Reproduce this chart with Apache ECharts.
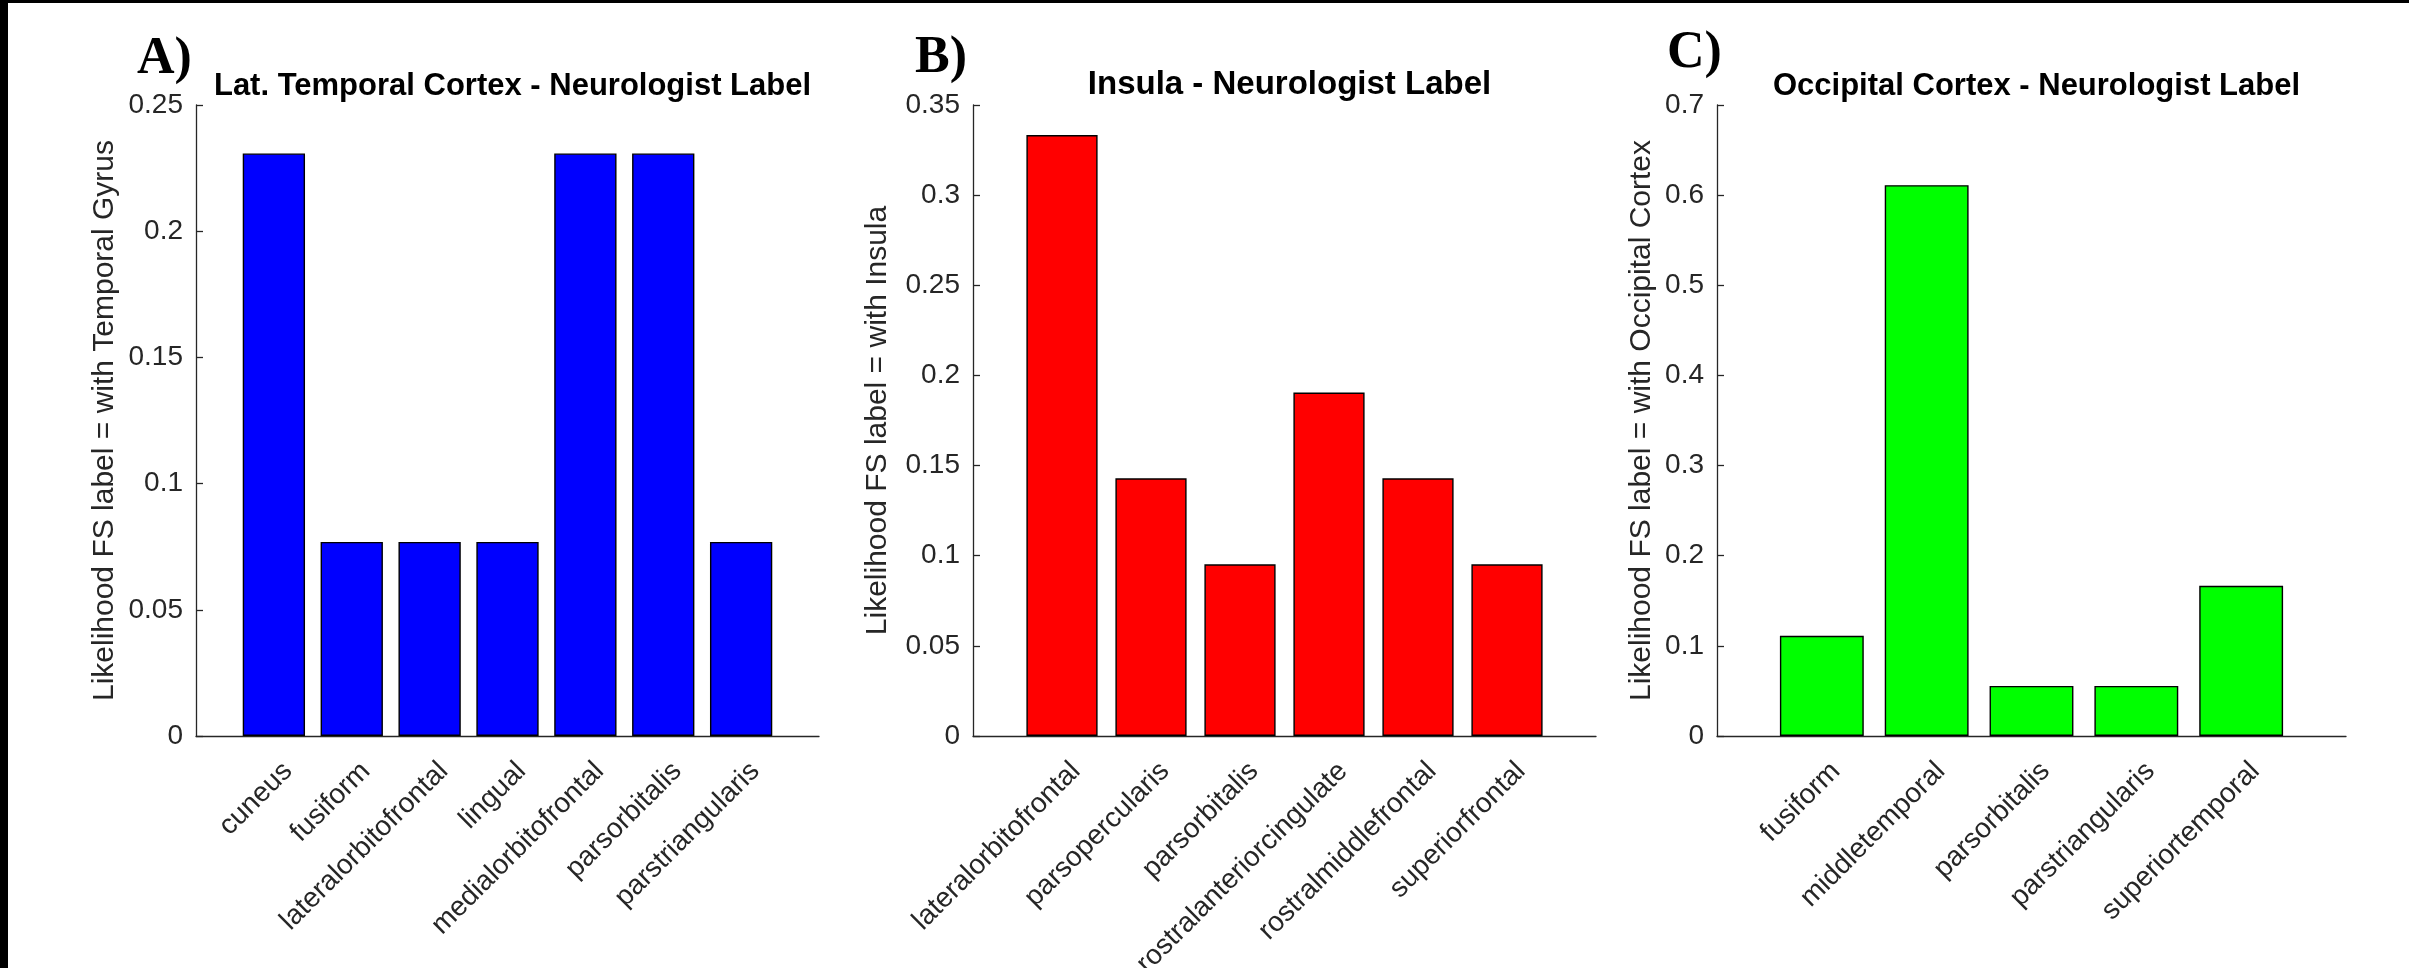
<!DOCTYPE html>
<html><head><meta charset="utf-8">
<script src="https://cdn.jsdelivr.net/npm/echarts@6/dist/echarts.min.js"></script>
<style>html,body{margin:0;padding:0;background:#fff;overflow:hidden}#c{width:2409px;height:968px}</style>
</head><body><div id="c"></div>
<script>
// ---- data ----
const catsA = ['cuneus','fusiform','lateralorbitofrontal','lingual','medialorbitofrontal','parsorbitalis','parstriangularis'];
const valsA = [0.2308,0.0769,0.0769,0.0769,0.2308,0.2308,0.0769];
const catsB = ['lateralorbitofrontal','parsopercularis','parsorbitalis','rostralanteriorcingulate','rostralmiddlefrontal','superiorfrontal'];
const valsB = [0.3333,0.1429,0.0952,0.1905,0.1429,0.0952];
const catsC = ['fusiform','middletemporal','parsorbitalis','parstriangularis','superiortemporal'];
const valsC = [0.1111,0.6111,0.0556,0.0556,0.1667];
const titles = ['Lat. Temporal Cortex - Neurologist Label','Insula - Neurologist Label','Occipital Cortex - Neurologist Label'];
const yNames = ['Likelihood FS label = with Temporal Gyrus','Likelihood FS label = with Insula','Likelihood FS label = with Occipital Cortex'];
const yMax = [0.25,0.35,0.7];
const yStep = [0.05,0.05,0.1];
const panelTags = ['A)','B)','C)'];

// ---- layout / style ----
const cats = [catsA,catsB,catsC];
const vals = [valsA,valsB,valsC];
const colors = ['#0000ff','#ff0000','#00ff00'];
const grids = [
  {left:196, top:105, width:623, height:631},
  {left:973, top:105, width:623, height:631},
  {left:1717, top:105, width:629, height:631}
];
const nameGaps = [76, 80, 60];
const tagPos = [[137,34],[915,33],[1667,28]];
const titleSize = [31, 33, 31];
const titleTop = [66, 63, 66];
const labelShiftPx = 14;   // horizontal offset of rotated tick labels (MATLAB style)
const AX = '#262626';
const FONT = '"Liberation Sans", Arial, Helvetica, sans-serif';

const chart = echarts.init(document.getElementById('c'), null, {renderer:'canvas', width:2409, height:968});

const option = {
  backgroundColor:'#ffffff',
  animation:false,
  title: titles.map((t,i)=>({
    text:t, left: grids[i].left + grids[i].width/2, top:titleTop[i], textAlign:'center',
    textStyle:{fontFamily:FONT, fontWeight:'bold', fontSize:titleSize[i], color:'#000'}
  })),
  grid: grids.map(g=>Object.assign({containLabel:false, outerBoundsMode:'none'}, g)),
  xAxis: cats.map((c,i)=>{
    const idx = c.map((_,j)=>j+1);
    const unit = grids[i].width/(c.length+1);
    const lab = idx.map(k=>k+labelShiftPx/unit);
    return {
      type:'value', gridIndex:i, min:0, max:c.length+1, interval:1,
      axisLine:{show:true, onZero:false, lineStyle:{color:AX, width:1.3}},
      axisTick:{show:true, inside:true, length:7, lineStyle:{color:AX, width:1.3}, customValues: idx},
      axisLabel:{show:true, rotate:45, margin:31, fontSize:28, fontFamily:FONT, color:AX,
        customValues: lab, hideOverlap:false,
        formatter:(v)=>{const k=Math.round(v); return (k>=1&&k<=c.length)?c[k-1]:'';}},
      splitLine:{show:false}
    };
  }),
  yAxis: yMax.map((m,i)=>({
    type:'value', gridIndex:i, min:0, max:m, interval:yStep[i],
    name: yNames[i], nameLocation:'middle', nameGap:nameGaps[i],
    nameTextStyle:{fontFamily:FONT, fontSize:30, color:AX},
    axisLine:{show:true, lineStyle:{color:AX, width:1.3}},
    axisTick:{show:true, inside:true, length:7, lineStyle:{color:AX, width:1.3}},
    axisLabel:{margin:13, fontSize:28, fontFamily:FONT, color:AX,
      formatter:(v)=>String(parseFloat(v.toFixed(4)))},
    splitLine:{show:false}
  })),
  series: cats.map((c,i)=>({
    type:'bar', xAxisIndex:i, yAxisIndex:i, barWidth:'80%',
    data: vals[i].map((v,j)=>[j+1, v]),
    itemStyle:{color:colors[i], borderColor:'#000', borderWidth:1.4}
  })),
  graphic: [
    {type:'rect', left:0, top:0, shape:{x:0,y:0,width:8,height:968}, style:{fill:'#000'}, z:100},
    {type:'rect', left:0, top:0, shape:{x:0,y:0,width:2409,height:3}, style:{fill:'#000'}, z:100}
  ].concat(panelTags.map((t,i)=>({
    type:'text', x:tagPos[i][0], y:tagPos[i][1], z:100,
    style:{text:t, font:'bold 52px "Liberation Serif", "Times New Roman", serif', fill:'#000'}
  })))
};
chart.setOption(option);
</script></body></html>
